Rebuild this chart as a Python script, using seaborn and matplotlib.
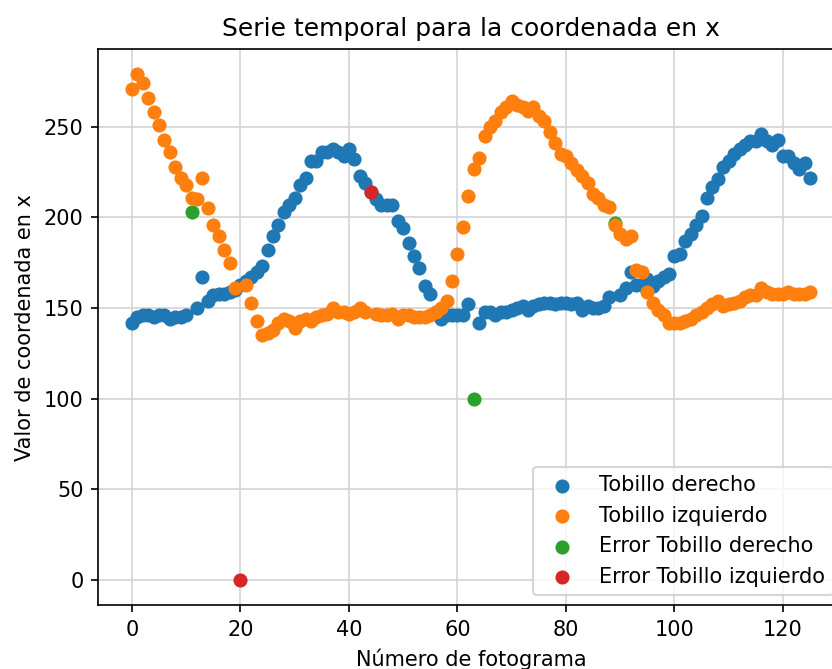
import numpy as np
import matplotlib
matplotlib.use("Agg")
import matplotlib.pyplot as plt
import seaborn as sns

nan = np.nan

# Frame index of each sample
frames = list(range(126))

# x coordinate of the right ankle (missing where detection failed)
tobillo_derecho = [
    142, 145, 146, 146, 145, 146, 146, 144, 145, 145,
    146, nan, 150, 167, 154, 157, 158, 158, 159, 160,
    163, 165, 167, 170, 173, 182, 190, 196, 203, 207,
    211, 218, 222, 231, 231, 236, 236, 238, 236, 234,
    238, 232, 223, 219, 214, 210, 207, 207, 207, 198,
    194, 186, 179, 172, 162, 158, 148, 144, 146, 146,
    146, 146, 152, nan, 142, 148, 148, 146, 148, 148,
    149, 150, 151, 149, 151, 152, 153, 153, 152, 153,
    153, 152, 153, 149, 151, 150, 150, 151, 156, nan,
    157, 161, 170, 163, 163, 166, 162, 165, 167, 169,
    179, 180, 187, 191, 196, 201, 211, 217, 221, 228,
    231, 235, 238, 240, 242, 242, 246, 242, 240, 243,
    234, 234, 230, 227, 230, 222,
]

# x coordinate of the left ankle (missing where detection failed)
tobillo_izquierdo = [
    271, 279, 274, 266, 258, 251, 243, 236, 228, 222,
    218, 211, 210, 222, 205, 196, 190, 182, 175, 161,
    nan, 163, 153, 143, 135, 136, 138, 142, 144, 143,
    139, 143, 144, 143, 145, 146, 147, 150, 148, 148,
    147, 148, 150, 148, nan, 147, 146, 146, 147, 144,
    146, 146, 145, 145, 145, 146, 148, 150, 154, 165,
    180, 195, 212, 227, 233, 245, 250, 253, 258, 261,
    264, 262, 261, 259, 261, 256, 253, 247, 241, 235,
    234, 230, 226, 223, 219, 213, 211, 207, 206, 196,
    191, 188, 190, 171, 170, 159, 153, 149, 146, 142,
    142, 142, 143, 144, 146, 148, 150, 152, 154, 151,
    152, 153, 154, 156, 157, 157, 161, 159, 158, 158,
    158, 159, 158, 158, 158, 159,
]

# Frames flagged as detection errors and the value recorded there
error_der_frames = [11, 63, 89]
error_der_values = [203, 100, 197]
error_izq_frames = [20, 44]
error_izq_values = [0, 214]

fig = plt.figure(figsize=(832 / 150, 669 / 150), dpi=150)
ax = fig.add_axes([0.1178, 0.0952, 0.8966, 0.8316])
ax.grid(True, color="#d4d4d4", linewidth=0.8)
ax.set_axisbelow(True)

common = dict(s=46, linewidth=0, ax=ax)
sns.scatterplot(x=frames, y=tobillo_derecho, color="#1f77b4",
                label="Tobillo derecho", zorder=2.0, **common)
sns.scatterplot(x=frames, y=tobillo_izquierdo, color="#ff7f0e",
                label="Tobillo izquierdo", zorder=2.2, **common)
sns.scatterplot(x=error_der_frames, y=error_der_values, color="#2ca02c",
                label="Error Tobillo derecho", zorder=2.1, **common)
sns.scatterplot(x=error_izq_frames, y=error_izq_values, color="#d62728",
                label="Error Tobillo izquierdo", zorder=2.3, **common)

ax.set_title("Serie temporal para la coordenada en x")
ax.set_xlabel("Número de fotograma")
ax.set_ylabel("Valor de coordenada en x")
ax.legend(loc="lower right")

fig.savefig("out.png", dpi=150)
